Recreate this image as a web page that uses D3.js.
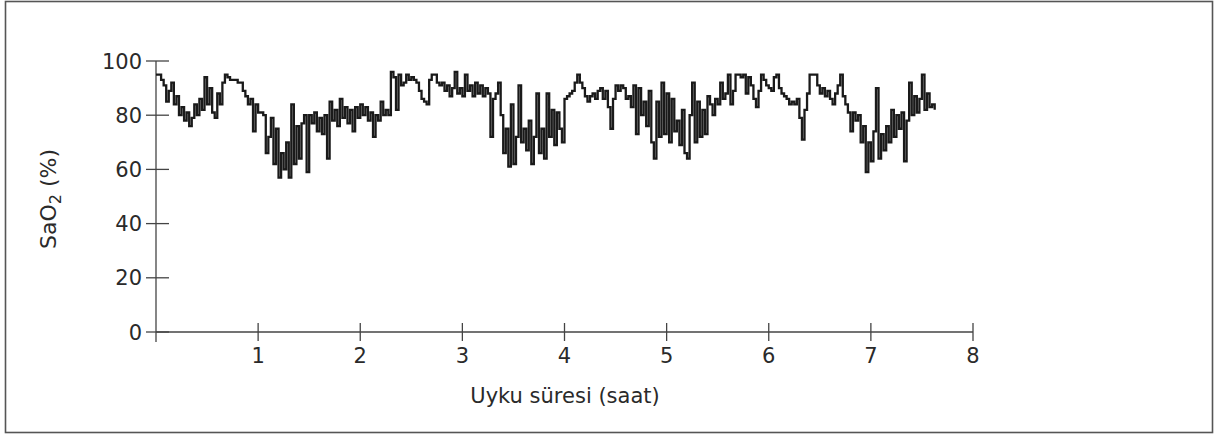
<!DOCTYPE html>
<html>
<head>
<meta charset="utf-8">
<script src="https://cdn.jsdelivr.net/npm/d3@7"></script>
<style>
  body { margin: 0; background: #fff; }
  svg text { font-family: "DejaVu Sans", Verdana, sans-serif; fill: #2a2a2a; }
</style>
</head>
<body>
<svg width="1215" height="437"></svg>
<script>
// SaO2 samples, one every 0.025 h, split per hour of sleep
var sampleStep = 0.025;
var hour0 = [95,95,93,91,85,89,92,84,87,80, 83,78,81,76,79,84,80,86,82,94, 84,90,81,79,88,84,92,95,94,93, 93,93,92,92,89,87,84,86,74,84];
var hour1 = [81,81,80,66,72,79,62,75,57,66, 60,70,57,84,62,76,64,77,80,59, 80,77,81,74,79,73,80,64,85,78, 82,76,86,79,83,77,82,74,83,79];
var hour2 = [84,80,83,78,81,72,80,78,85,80, 82,80,96,94,82,95,91,92,95,93, 94,93,92,89,86,85,84,93,95,95, 92,91,92,89,91,87,90,96,88,90];
var hour3 = [87,95,89,91,87,92,88,91,87,90, 88,72,86,88,92,80,66,75,61,84, 62,72,91,70,75,67,78,62,72,88, 66,75,64,88,72,82,69,81,75,70];
var hour4 = [86,87,88,89,92,95,92,90,87,85, 87,88,86,89,90,86,89,83,75,86, 91,89,91,90,86,87,83,91,73,90, 80,85,76,89,70,64,85,72,92,73];
var hour5 = [88,70,86,74,78,69,82,66,64,80, 92,70,85,72,82,73,87,84,80,86, 84,92,86,88,95,84,89,95,95,94, 95,88,94,91,86,83,89,95,93,91];
var hour6 = [90,89,94,95,90,88,87,86,84,85, 84,86,79,71,82,88,95,95,95,91, 88,90,87,89,86,84,88,91,95,87, 84,81,74,81,78,80,70,76,59,70];
var hour7 = [63,74,90,64,73,67,76,70,82,72, 80,75,81,63,78,92,80,87,81,86, 95,82,88,83,84,82];

var xTicks = [1, 2, 3, 4, 5, 6, 7, 8];
var yTicks = [0, 20, 40, 60, 80, 100];

var series = [].concat(hour0, hour1, hour2, hour3, hour4, hour5, hour6, hour7)
  .map(function(v, i) { return { t: i * sampleStep, v: v }; });

var svg = d3.select("svg");

// frame
svg.append("rect")
  .attr("x", 5.5).attr("y", 1.5)
  .attr("width", 1207).attr("height", 431)
  .attr("fill", "none")
  .attr("stroke", "#555")
  .attr("stroke-width", 1.6);

var x = d3.scaleLinear().domain([0, 8]).range([156, 973]);
var y = d3.scaleLinear().domain([0, 100]).range([332, 61]);

var axisColor = "#444";

// x axis: ticks cross the line
var gx = svg.append("g");
gx.append("line")
  .attr("x1", x(0)).attr("x2", x(8))
  .attr("y1", y(0)).attr("y2", y(0))
  .attr("stroke", axisColor).attr("stroke-width", 1.3);
gx.selectAll(".xt")
  .data(xTicks)
  .enter().append("line")
  .attr("x1", function(d) { return x(d); })
  .attr("x2", function(d) { return x(d); })
  .attr("y1", y(0) - 9).attr("y2", y(0) + 9)
  .attr("stroke", axisColor).attr("stroke-width", 1.3);
gx.selectAll(".xl")
  .data(xTicks)
  .enter().append("text")
  .attr("x", function(d) { return x(d); })
  .attr("y", 363)
  .attr("text-anchor", "middle")
  .attr("font-size", 21)
  .text(function(d) { return d; });

// y axis
var gy = svg.append("g");
gy.append("line")
  .attr("x1", x(0)).attr("x2", x(0))
  .attr("y1", y(0) + 10).attr("y2", y(100))
  .attr("stroke", axisColor).attr("stroke-width", 1.3);
gy.selectAll(".yt")
  .data(yTicks)
  .enter().append("line")
  .attr("x1", x(0) - 10).attr("x2", x(0) + 13)
  .attr("y1", function(d) { return y(d); })
  .attr("y2", function(d) { return y(d); })
  .attr("stroke", axisColor).attr("stroke-width", 1.3);
gy.selectAll(".yl")
  .data(yTicks)
  .enter().append("text")
  .attr("x", 142)
  .attr("y", function(d) { return y(d) + 7.5; })
  .attr("text-anchor", "end")
  .attr("font-size", 21)
  .text(function(d) { return d; });

// axis titles
svg.append("text")
  .attr("x", 565).attr("y", 403)
  .attr("text-anchor", "middle")
  .attr("font-size", 21)
  .text("Uyku süresi (saat)");

var yt = svg.append("text")
  .attr("transform", "translate(56,199) rotate(-90)")
  .attr("text-anchor", "middle")
  .attr("font-size", 22);
yt.append("tspan").text("SaO");
yt.append("tspan").attr("font-size", 16).attr("dy", 5).text("2");
yt.append("tspan").attr("dy", -5).text(" (%)");

// trace
var line = d3.line()
  .x(function(d) { return x(d.t); })
  .y(function(d) { return y(d.v); })
  .curve(d3.curveStepAfter);

svg.append("path")
  .datum(series)
  .attr("d", line)
  .attr("fill", "none")
  .attr("stroke", "#1a1a1a")
  .attr("stroke-width", 2.3)
  .attr("stroke-linejoin", "miter");
</script>
</body>
</html>
